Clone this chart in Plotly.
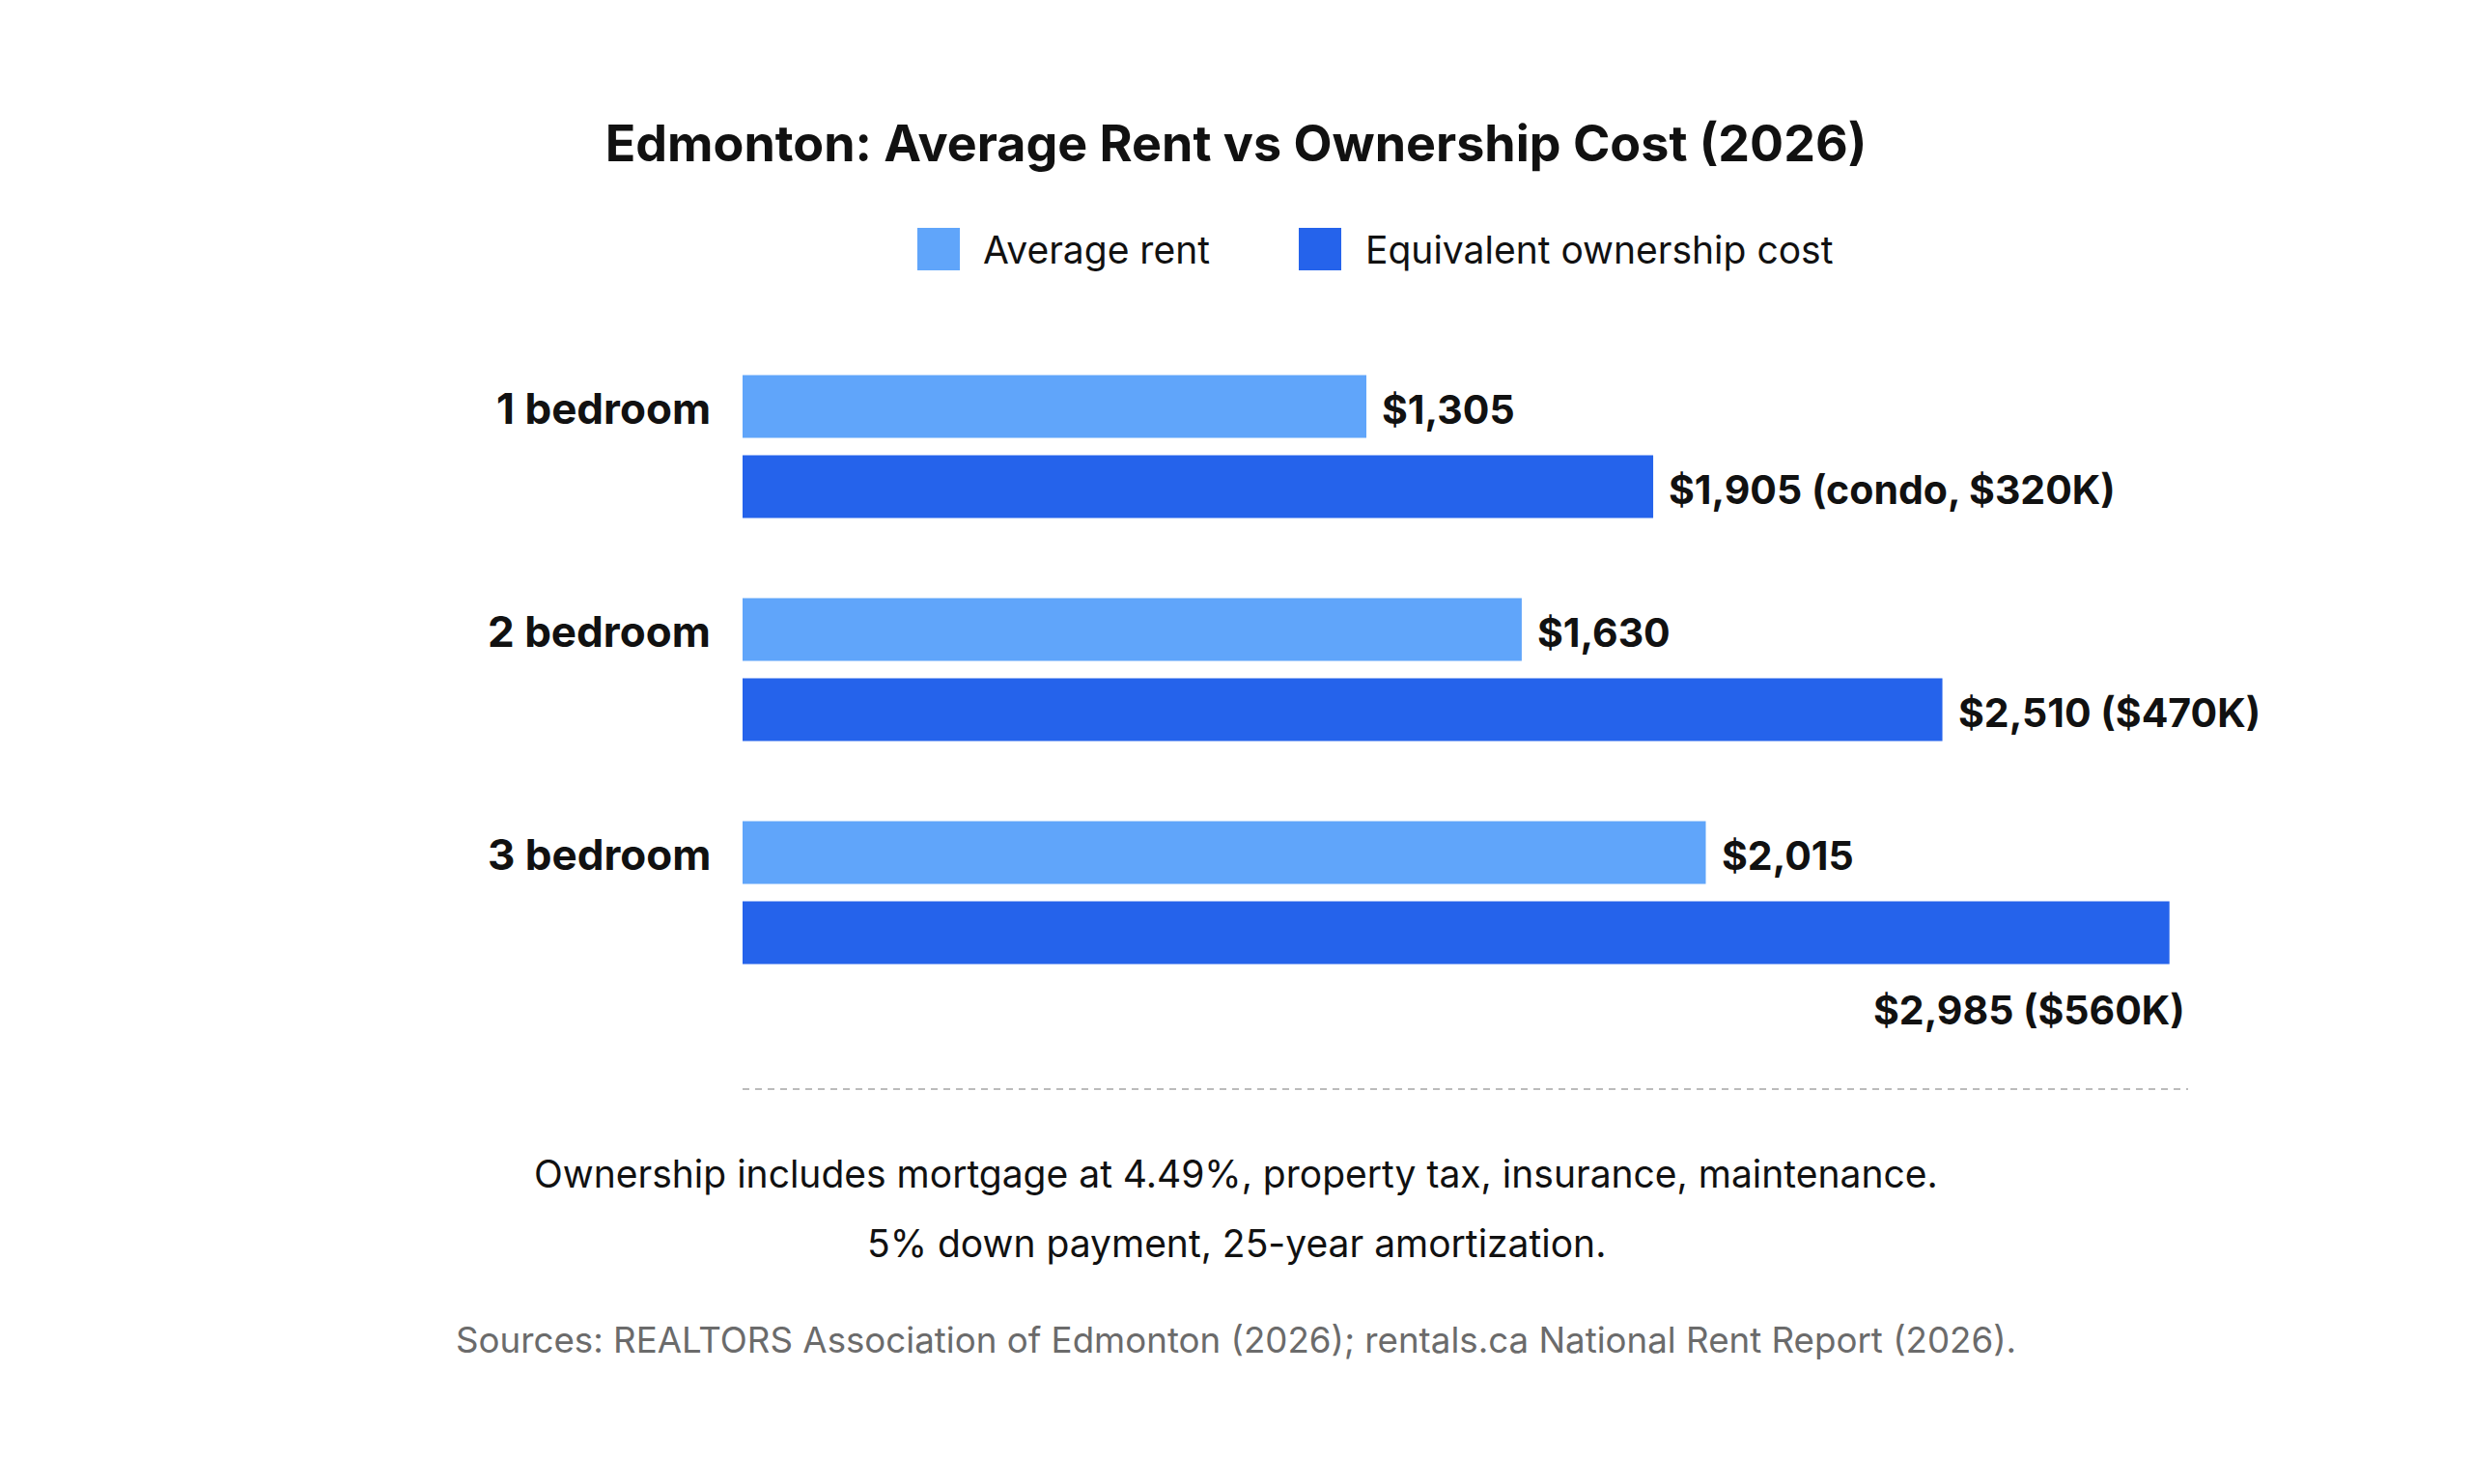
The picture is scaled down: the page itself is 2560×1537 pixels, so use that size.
import plotly.graph_objects as go

# ---------------- data ----------------
categories = ["1 bedroom", "2 bedroom", "3 bedroom"]
avg_rent = [1305, 1630, 2015]
ownership_cost = [1905, 2510, 2985]
ownership_notes = ["condo, $320K", "$470K", "$560K"]
series_names = ["Average rent", "Equivalent ownership cost"]
title_text = "Edmonton: Average Rent vs Ownership Cost (2026)"
footnotes = [
    "Ownership includes mortgage at 4.49%, property tax, insurance, maintenance.",
    "5% down payment, 25-year amortization.",
]
source_text = "Sources: REALTORS Association of Edmonton (2026); rentals.ca National Rent Report (2026)."

# ---------------- style ----------------
RENT_COLOR = "#60A5FA"
OWN_COLOR = "#2563EB"
INK = "#111111"
GREY = "#6b6b6b"
FONT = "Inter"

W, H = 2544, 1521
L, R, T, B = 761, 286, 339, 489
PW = W - L - R
PH = H - T - B
X_MAX = 3024


def px(x):
    return (x - L) / PW


def py(y):
    return (H - B - y) / PH


fig = go.Figure()
fig.add_trace(go.Bar(y=categories, x=avg_rent, orientation="h", name=series_names[0],
                     marker=dict(color=RENT_COLOR, line=dict(width=0)), showlegend=False,
                     hoverinfo="skip"))
fig.add_trace(go.Bar(y=categories, x=ownership_cost, orientation="h", name=series_names[1],
                     marker=dict(color=OWN_COLOR, line=dict(width=0)), showlegend=False,
                     hoverinfo="skip"))

ann = []
shapes = []
LBL = 41
CAT = 44
HALF = 41.5
NUDGE = -3

for i, cat in enumerate(categories):
    ann.append(dict(x=px(730), xref="paper", y=cat, yref="y", yshift=HALF + NUDGE + 1,
                    text=cat, showarrow=False, xanchor="right", yanchor="middle",
                    font=dict(family=FONT, size=CAT, color=INK, weight=700)))
    ann.append(dict(x=avg_rent[i], xref="x", y=cat, yref="y", yshift=HALF + NUDGE, xshift=14,
                    text=f"${avg_rent[i]:,}", showarrow=False, xanchor="left", yanchor="middle",
                    font=dict(family=FONT, size=LBL, color=INK, weight=700)))
    own_txt = f"${ownership_cost[i]:,} ({ownership_notes[i]})"
    end_px = L + ownership_cost[i] / X_MAX * PW
    est_w = len(own_txt) * LBL * 0.58
    below = end_px + 16 + est_w > W
    if below:
        ann.append(dict(x=ownership_cost[i], xref="x", y=cat, yref="y", yshift=-HALF - 77 + NUDGE,
                        xshift=18, text=own_txt, showarrow=False, xanchor="right",
                        yanchor="middle",
                        font=dict(family=FONT, size=LBL, color=INK, weight=700)))
    else:
        ann.append(dict(x=ownership_cost[i], xref="x", y=cat, yref="y", yshift=-HALF + NUDGE,
                        xshift=14, text=own_txt, showarrow=False, xanchor="left",
                        yanchor="middle",
                        font=dict(family=FONT, size=LBL, color=INK, weight=700)))

# manual legend
legend_items = [(942, 1008, RENT_COLOR, series_names[0]), (1337, 1404, OWN_COLOR, series_names[1])]
for sx, tx, col, name in legend_items:
    shapes.append(dict(type="rect", xref="paper", yref="paper", x0=px(sx), x1=px(sx + 44),
                       y0=py(272), y1=py(228), fillcolor=col, line=dict(width=0)))
    ann.append(dict(x=px(tx), xref="paper", y=py(250), yref="paper", text=name,
                    showarrow=False, xanchor="left", yanchor="middle",
                    font=dict(family=FONT, size=39, color=INK)))

# dashed separator
shapes.append(dict(type="line", xref="paper", yref="paper", x0=0, x1=1, y0=py(1120), y1=py(1120),
                   line=dict(color="#bbbbbb", width=2, dash="7px,6px")))

for k, (txt, yy) in enumerate(zip(footnotes, [1207, 1279])):
    ann.append(dict(x=px(W / 2), xref="paper", y=py(yy), yref="paper", text=txt,
                    showarrow=False, xanchor="center", yanchor="middle",
                    font=dict(family=FONT, size=39, color=INK)))
ann.append(dict(x=px(W / 2), xref="paper", y=py(1379), yref="paper", text=source_text,
                showarrow=False, xanchor="center", yanchor="middle",
                font=dict(family=FONT, size=36.7, color=GREY)))

fig.update_layout(
    width=W, height=H, autosize=False,
    margin=dict(l=L, r=R, t=T, b=B, pad=0),
    paper_bgcolor="white", plot_bgcolor="white",
    barmode="group", bargap=0.281, bargroupgap=0.217,
    title=dict(text=title_text, x=0.5, xref="container", xanchor="center",
               y=1 - 141 / H, yref="container", yanchor="middle",
               font=dict(family=FONT, size=52, color=INK, weight=700)),
    xaxis=dict(range=[0, X_MAX], visible=False, fixedrange=True),
    yaxis=dict(range=[2.5, -0.5], showticklabels=False, showgrid=False, zeroline=False,
               showline=False, ticks="", fixedrange=True),
    annotations=ann, shapes=shapes, showlegend=False,
)

fig.write_html("out.html")
